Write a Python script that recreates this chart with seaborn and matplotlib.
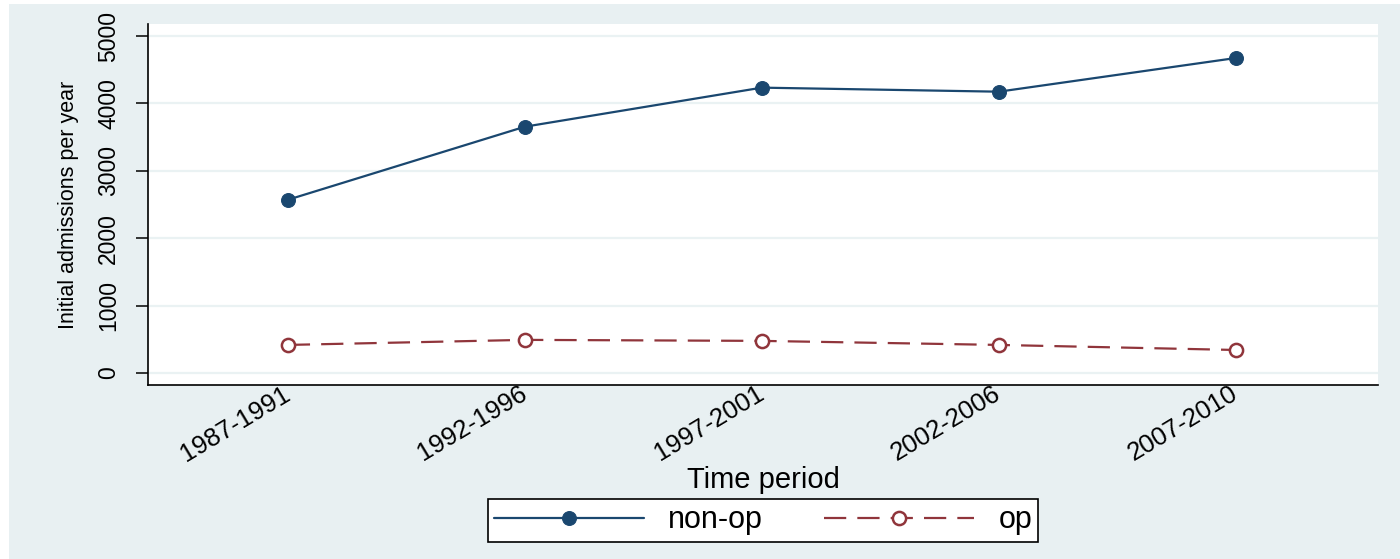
import matplotlib
matplotlib.use("Agg")
import matplotlib.pyplot as plt
from matplotlib.patches import Rectangle
import seaborn as sns
import pandas as pd

periods = ["1987-1991", "1992-1996", "1997-2001", "2002-2006", "2007-2010"]
non_op = [2570, 3655, 4235, 4175, 4675]
op = [415, 490, 475, 415, 340]
y_ticks = [0, 1000, 2000, 3000, 4000, 5000]

navy = "#1a476f"
maroon = "#90353b"
bg = "#e8f0f2"
grid_c = "#eaf2f3"

sns.set_theme(style="white")
plt.rcParams["font.family"] = ["Liberation Sans", "DejaVu Sans"]
plt.rcParams["text.color"] = "black"
plt.rcParams["axes.labelcolor"] = "black"
plt.rcParams["xtick.color"] = "black"
plt.rcParams["ytick.color"] = "black"

fig = plt.figure(figsize=(14, 5.59), dpi=100)
fig.patch.set_facecolor("white")
fig.patches.append(Rectangle((9 / 1400, 0), 1 - 9 / 1400, 1 - 4 / 559,
                             transform=fig.transFigure, facecolor=bg,
                             edgecolor="none", zorder=-10))

ax = fig.add_axes([148 / 1400, 1 - 385 / 559, (1378 - 148) / 1400, (385 - 24) / 559])
ax.set_facecolor("white")

df_non = pd.DataFrame({"period": periods, "value": non_op})
df_op = pd.DataFrame({"period": periods, "value": op})

sns.lineplot(data=df_non, x="period", y="value", ax=ax, sort=False,
             color=navy, lw=1.6, marker="o", markersize=10,
             markeredgecolor=navy, markerfacecolor=navy, label="non-op")
sns.lineplot(data=df_op, x="period", y="value", ax=ax, sort=False,
             color=maroon, lw=1.6, marker="o", markersize=9.5,
             markeredgecolor=maroon, markerfacecolor="white",
             markeredgewidth=1.8, label="op")
ax.lines[1].set_dashes((10, 5))

ax.set_xlim(-0.59, 4.6)
ax.set_ylim(-180, 5180)
ax.set_yticks(y_ticks)
ax.set_yticklabels([str(v) for v in y_ticks])
ax.yaxis.grid(True, color=grid_c, lw=1.6)
ax.set_axisbelow(True)

for s in ["top", "right"]:
    ax.spines[s].set_visible(False)
for s in ["left", "bottom"]:
    ax.spines[s].set_color("black")
    ax.spines[s].set_linewidth(1.2)

ax.tick_params(axis="y", which="major", left=True, length=9, width=1.1,
               color="black", pad=11, labelsize=16.5, labelrotation=90,
               labelcolor="black")
for t in ax.get_yticklabels():
    t.set_va("center")
ax.tick_params(axis="x", bottom=False, length=0, pad=5, labelsize=18.5,
               labelcolor="black")
for t in ax.get_xticklabels():
    t.set_rotation(31)
    t.set_ha("right")
    t.set_va("center")
    t.set_rotation_mode("anchor")

ax.set_ylabel("Initial admissions per year", fontsize=15.5, labelpad=13,
              color="black")
ax.set_xlabel("Time period", fontsize=21, labelpad=0, color="black")

ax.get_legend().remove()
handles, labels = ax.get_legend_handles_labels()
leg = fig.legend(handles, labels, loc="center", bbox_to_anchor=(0.545, 0.069),
                 ncol=2, fontsize=22, handlelength=4.9, handletextpad=0.8,
                 columnspacing=2.0, borderpad=0.2, fancybox=False,
                 frameon=True, edgecolor="black", framealpha=1, numpoints=1)
leg.get_frame().set_linewidth(1.2)
leg.get_frame().set_facecolor("white")
for t in leg.get_texts():
    t.set_color("black")

fig.savefig("out.png", dpi=100, facecolor=fig.get_facecolor())
